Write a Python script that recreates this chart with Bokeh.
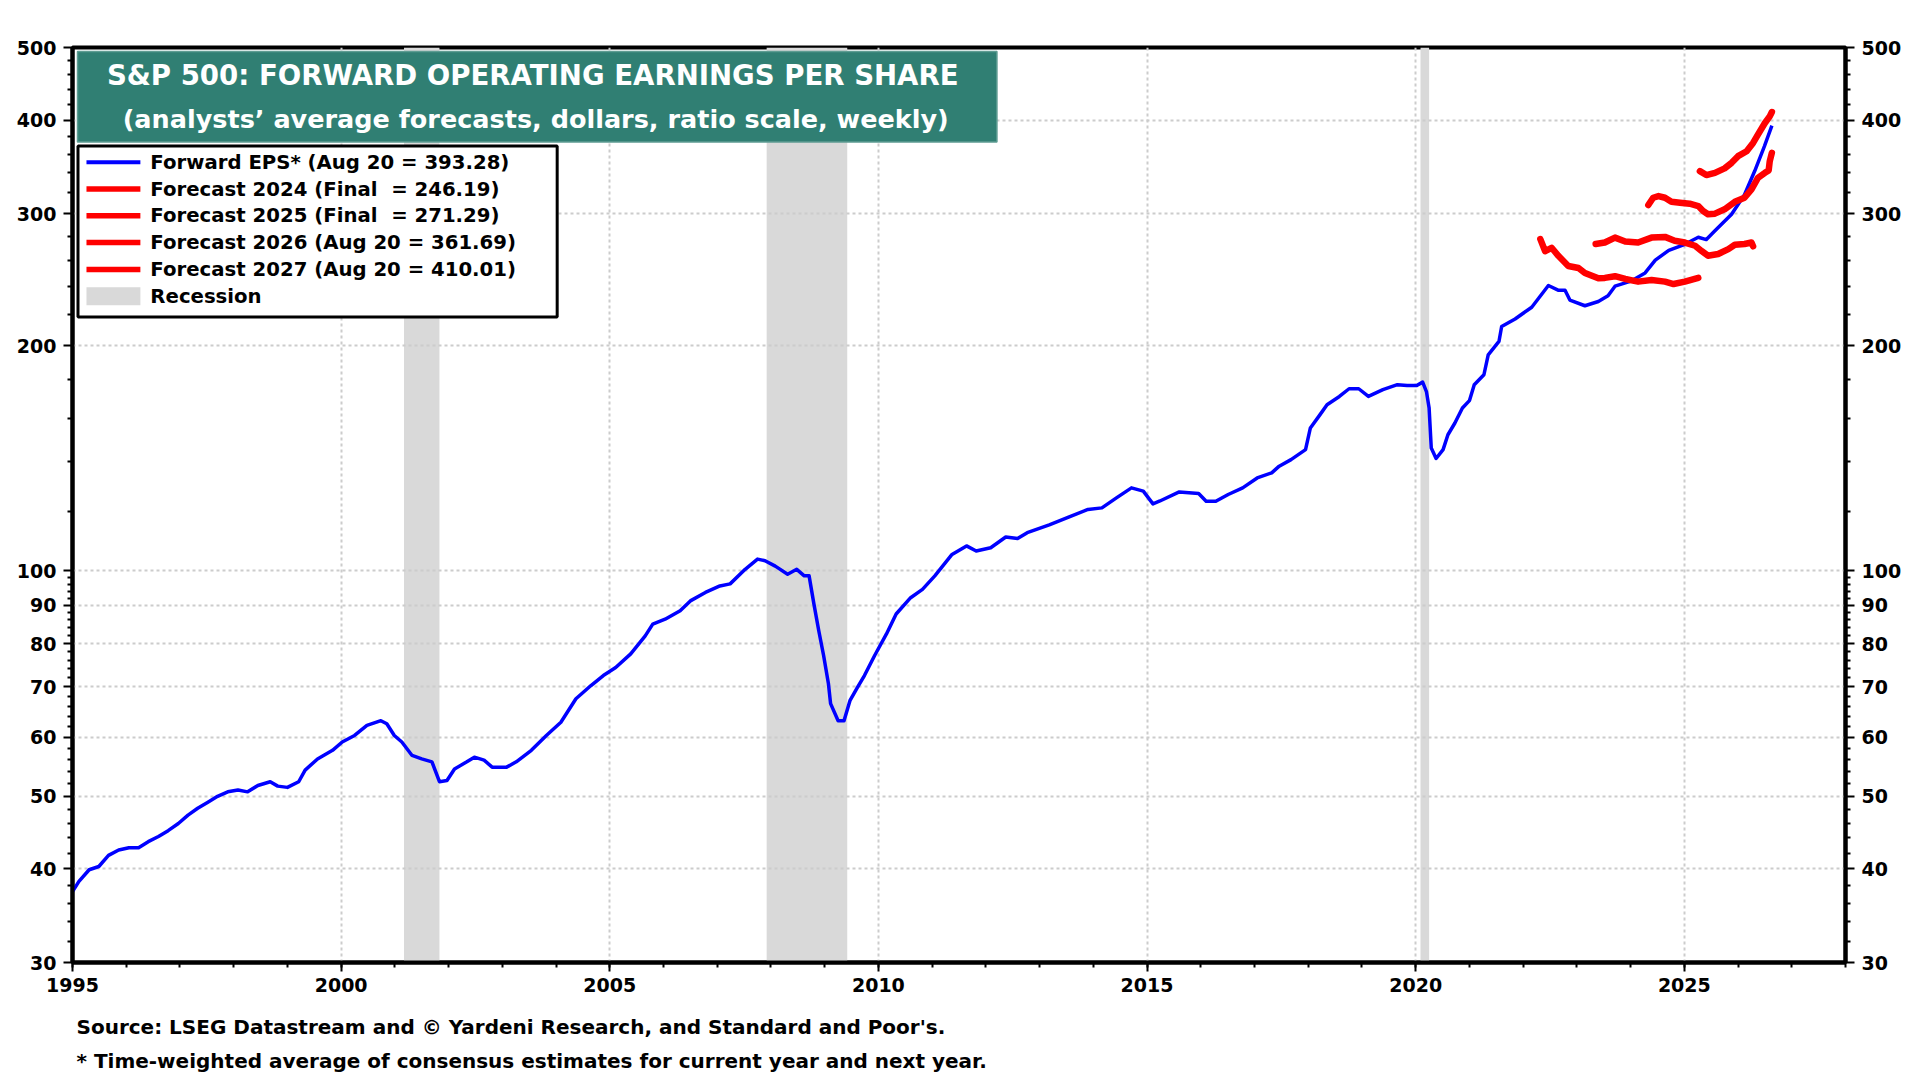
import math
from bokeh.plotting import figure
from bokeh.layouts import column
from bokeh.models import FixedTicker, LogAxis, PrintfTickFormatter, Label, Range1d
from bokeh.core.properties import value
from bokeh.embed import file_html
from bokeh.resources import INLINE

# ---------------- data ----------------
eps_year = [1995.00, 1995.12, 1995.31, 1995.49, 1995.67, 1995.86, 1996.05, 1996.23, 1996.41, 1996.60,
            1996.78, 1996.97, 1997.15, 1997.33, 1997.52, 1997.70, 1997.89, 1998.08, 1998.26, 1998.45,
            1998.68, 1998.82, 1999.00, 1999.21, 1999.33, 1999.56, 1999.84, 2000.02, 2000.25, 2000.48,
            2000.74, 2000.85, 2000.99, 2001.13, 2001.32, 2001.50, 2001.69, 2001.83, 2001.97, 2002.11,
            2002.34, 2002.48, 2002.66, 2002.81, 2003.08, 2003.26, 2003.54, 2003.82, 2004.09, 2004.37,
            2004.65, 2004.88, 2005.11, 2005.39, 2005.66, 2005.80, 2006.03, 2006.31, 2006.50, 2006.78,
            2007.05, 2007.24, 2007.52, 2007.75, 2007.89, 2008.08, 2008.31, 2008.48, 2008.62, 2008.71,
            2008.80, 2008.89, 2008.98, 2009.07, 2009.11, 2009.25, 2009.36, 2009.47, 2009.61, 2009.74,
            2009.93, 2010.15, 2010.33, 2010.60, 2010.82, 2011.05, 2011.37, 2011.64, 2011.82, 2012.09,
            2012.37, 2012.59, 2012.77, 2013.18, 2013.54, 2013.90, 2014.16, 2014.43, 2014.71, 2014.93,
            2015.11, 2015.24, 2015.60, 2015.96, 2016.10, 2016.28, 2016.51, 2016.78, 2017.05, 2017.32,
            2017.46, 2017.68, 2017.95, 2018.04, 2018.22, 2018.35, 2018.58, 2018.76, 2018.94, 2019.12,
            2019.39, 2019.66, 2019.84, 2020.02, 2020.13, 2020.20, 2020.25, 2020.29, 2020.38, 2020.51,
            2020.60, 2020.73, 2020.87, 2021.00, 2021.09, 2021.27, 2021.35, 2021.55, 2021.60, 2021.85,
            2022.16, 2022.47, 2022.66, 2022.78, 2022.87, 2023.15, 2023.40, 2023.58, 2023.71, 2024.02,
            2024.27, 2024.46, 2024.71, 2025.01, 2025.26, 2025.41, 2025.57, 2025.88, 2026.12, 2026.31,
            2026.49, 2026.63]
eps_value = [37.3, 38.5, 39.9, 40.3, 41.7, 42.4, 42.7, 42.7, 43.5, 44.2,
             45.0, 46.0, 47.2, 48.2, 49.1, 50.0, 50.7, 51.0, 50.7, 51.7,
             52.3, 51.6, 51.4, 52.3, 54.2, 56.1, 57.6, 59.1, 60.3, 62.2,
             63.1, 62.5, 60.3, 59.1, 56.7, 56.1, 55.6, 52.3, 52.5, 54.4,
             55.6, 56.4, 55.9, 54.7, 54.7, 55.6, 57.6, 60.3, 62.8, 67.5,
             70.3, 72.5, 74.3, 77.5, 81.9, 84.9, 86.2, 88.5, 91.2, 93.6,
             95.5, 96.1, 100.5, 103.7, 103.2, 101.5, 99.0, 100.5, 98.5, 98.5,
             90.3, 83.2, 77.1, 70.7, 66.5, 63.1, 63.1, 67.1, 69.9, 72.5,
             77.1, 82.4, 87.6, 92.1, 94.5, 98.5, 105.2, 108.0, 106.3, 107.4,
             111.0, 110.5, 112.5, 115.2, 118.0, 120.8, 121.4, 125.2, 129.1, 127.8,
             122.9, 124.0, 127.5, 126.9, 123.9, 123.9, 126.5, 129.1, 133.1, 135.2,
             138.0, 140.8, 145.2, 155.2, 161.7, 166.7, 171.0, 175.1, 175.1, 171.0,
             174.6, 177.3, 176.8, 176.8, 178.7, 173.6, 165.0, 145.9, 141.3, 145.2,
             152.0, 157.6, 165.0, 168.8, 177.3, 182.8, 194.3, 202.5, 212.0, 217.0,
             225.0, 240.5, 237.0, 237.0, 230.0, 226.0, 229.0, 233.0, 240.0, 244.0,
             250.0, 260.0, 268.0, 273.0, 279.0, 277.0, 284.6, 299.5, 318.0, 342.0,
             369.0, 393.28]

f2024_year = [2022.32, 2022.41, 2022.53, 2022.66, 2022.84, 2023.03, 2023.15, 2023.40, 2023.52, 2023.71,
              2023.90, 2024.14, 2024.39, 2024.64, 2024.80, 2025.01, 2025.26]
f2024_value = [277.4, 267.3, 270.1, 263.3, 255.4, 253.8, 249.9, 245.9, 246.2, 247.5,
               245.4, 243.4, 244.6, 243.4, 241.6, 243.4, 246.19]

f2025_year = [2023.35, 2023.52, 2023.71, 2023.90, 2024.14, 2024.39, 2024.64, 2024.82, 2025.01, 2025.20,
              2025.32, 2025.44, 2025.63, 2025.82, 2025.94, 2026.12, 2026.25, 2026.28]
f2025_value = [273.3, 274.5, 278.7, 275.4, 274.5, 278.7, 279.3, 276.0, 274.5, 271.8,
               267.5, 263.6, 265.0, 269.0, 272.6, 273.3, 274.5, 271.29]

f2026_year = [2024.33, 2024.42, 2024.52, 2024.64, 2024.76, 2024.92, 2025.10, 2025.26, 2025.35, 2025.44,
              2025.57, 2025.75, 2025.94, 2026.12, 2026.25, 2026.37, 2026.50, 2026.57, 2026.59, 2026.63]
f2026_value = [308.1, 315.0, 316.6, 315.0, 311.1, 310.2, 309.3, 307.1, 302.5, 299.5,
               300.0, 304.0, 311.1, 315.0, 323.2, 334.9, 340.1, 342.6, 352.5, 361.69]

f2027_year = [2025.29, 2025.41, 2025.57, 2025.75, 2025.88, 2026.00, 2026.16, 2026.28, 2026.37, 2026.50,
              2026.59, 2026.63]
f2027_value = [341.9, 337.8, 340.1, 344.8, 350.7, 358.0, 363.5, 372.9, 382.5, 396.4,
               404.6, 410.01]

recession_start = [2001.17, 2007.92, 2020.09]
recession_end = [2001.83, 2009.42, 2020.25]

x_ticks = [1995, 2000, 2005, 2010, 2015, 2020, 2025]
x_minor_ticks = list(range(1995, 2029))
y_ticks = [30, 40, 50, 60, 70, 80, 90, 100, 200, 300, 400, 500]
y_minor_ticks = [v for v in range(32, 100, 2) if v % 10] + [v for v in range(120, 500, 20) if v % 100]

title_lines = ["S&P 500: FORWARD OPERATING EARNINGS PER SHARE",
               "(analysts\u2019 average forecasts, dollars, ratio scale, weekly)"]
NB = "\u00a0"
legend_labels = ["Forward EPS* (Aug 20 = 393.28)",
                 "Forecast 2024 (Final " + NB + "= 246.19)",
                 "Forecast 2025 (Final " + NB + "= 271.29)",
                 "Forecast 2026 (Aug 20 = 361.69)",
                 "Forecast 2027 (Aug 20 = 410.01)",
                 "Recession"]
notes = ["Source: LSEG Datastream and \u00a9 Yardeni Research, and Standard and Poor's.",
         "* Time-weighted average of consensus estimates for current year and next year."]

# ---------------- layout ----------------
W, H = 1904, 1004
NOTE_H = 72
FL, FR, FT, FB = 72, 1848, 47, 962          # frame edges in canvas pixels
X0, X1 = 1995, 2028
Y0, Y1 = 30, 500
FONT = "DejaVu Sans"
BLUE, RED, GREY, TEAL = "#0000FF", "#FF0000", "#D9D9D9", "#307F73"


def xd(px):
    return X0 + (px - FL) / (FR - FL) * (X1 - X0)


def yd(py):
    return Y0 * 10 ** ((FB - py) / (FB - FT) * math.log10(Y1 / Y0))


p = figure(width=W, height=H, x_range=Range1d(X0, X1), y_range=Range1d(Y0, Y1),
           y_axis_type="log", output_backend="svg", toolbar_location=None,
           min_border_left=FL, min_border_right=W - FR,
           min_border_top=FT, min_border_bottom=H - FB)
p.background_fill_color = "white"
p.border_fill_color = "white"
p.outline_line_color = "black"
p.outline_line_width = 4

xt = FixedTicker(ticks=x_ticks, minor_ticks=x_minor_ticks)
yt = FixedTicker(ticks=y_ticks, minor_ticks=y_minor_ticks)

right_axis = LogAxis()
p.add_layout(right_axis, "right")


def style_axis(ax, ticker, standoff):
    ax.ticker = ticker
    ax.formatter = PrintfTickFormatter(format="%d")
    ax.axis_line_color = "black"
    ax.axis_line_width = 4
    ax.major_tick_line_color = "black"
    ax.major_tick_line_width = 2
    ax.major_tick_in = 0
    ax.major_tick_out = 9
    ax.minor_tick_line_color = "black"
    ax.minor_tick_line_width = 2
    ax.minor_tick_in = 0
    ax.minor_tick_out = 5
    ax.major_label_text_font = FONT
    ax.major_label_text_font_size = "19px"
    ax.major_label_text_font_style = "bold"
    ax.major_label_text_color = "black"
    ax.major_label_standoff = standoff


style_axis(p.xaxis[0], xt, 6)
style_axis(p.yaxis[0], yt, 7)
style_axis(right_axis, yt, 7)

p.xgrid.ticker = xt
p.ygrid.ticker = yt
for g in (p.xgrid[0], p.ygrid[0]):
    g.grid_line_color = "#CCCCCC"
    g.grid_line_dash = "3 3"
    g.grid_line_width = 2

# recession bands (under the grid)
p.quad(left=recession_start, right=recession_end, bottom=Y0, top=Y1,
       fill_color=GREY, line_color=None, level="image")

# series
p.line(eps_year, eps_value, line_color=BLUE, line_width=3.5, line_join="round")
for yy, vv in ((f2024_year, f2024_value), (f2025_year, f2025_value),
               (f2026_year, f2026_value), (f2027_year, f2027_value)):
    p.line(yy, vv, line_color=RED, line_width=6.5, line_join="round", line_cap="round")

# title box
p.quad(left=xd(77), right=xd(998), top=yd(51), bottom=yd(141.5),
       fill_color=TEAL, line_color="#5E9C92", line_width=1.5)
p.add_layout(Label(x=xd(533), y=yd(75), text=title_lines[0], text_align="center",
                   text_baseline="middle", text_font=FONT, text_font_size="27.6px",
                   text_font_style="bold", text_color="white"))
p.add_layout(Label(x=xd(536), y=yd(118), text=title_lines[1], text_align="center",
                   text_baseline="middle", text_font=FONT, text_font_size="25.5px",
                   text_font_style="bold", text_color="white"))

# legend box
p.quad(left=xd(77.5), right=xd(557.5), top=yd(145.5), bottom=yd(316.5),
       fill_color="white", line_color="black", line_width=3)
row0, drow = 161.7, 26.8
colors = [BLUE, RED, RED, RED, RED]
widths = [4, 5.5, 5.5, 5.5, 5.5]
for i, lab in enumerate(legend_labels):
    ry = row0 + drow * i
    if i < 5:
        p.segment(x0=[xd(86)], x1=[xd(140)], y0=[yd(ry)], y1=[yd(ry)],
                  line_color=colors[i], line_width=widths[i])
    else:
        p.quad(left=[xd(86)], right=[xd(140)], top=[yd(ry - 9)], bottom=[yd(ry + 9)],
               fill_color=GREY, line_color=None)
    p.add_layout(Label(x=xd(150), y=yd(ry), text=lab, text_align="left",
                       text_baseline="middle", text_font=FONT, text_font_size="19.7px",
                       text_font_style="bold", text_color="black"))

# footnotes: a second, axis-less strip below the chart whose frame is aligned with the
# main frame; its x range is in page pixels and its y range runs downwards.
notes_fig = figure(width=W, height=NOTE_H, x_range=Range1d(FL, FR), y_range=Range1d(H + NOTE_H, H),
                   x_axis_location=None, y_axis_location=None, output_backend="svg",
                   toolbar_location=None, min_border_left=FL, min_border_right=W - FR,
                   min_border_top=0, min_border_bottom=0)
notes_fig.grid.visible = False
notes_fig.outline_line_color = None
notes_fig.background_fill_color = "white"
notes_fig.border_fill_color = "white"
notes_fig.text(x=[76, 76], y=[1026.5, 1060], text=notes, text_font=value(FONT),
               text_font_size="20px", text_font_style="bold", text_color="black",
               text_baseline="middle", text_align="left")

layout = column(p, notes_fig, spacing=0)
open("out.html", "w").write(file_html(layout, INLINE))
